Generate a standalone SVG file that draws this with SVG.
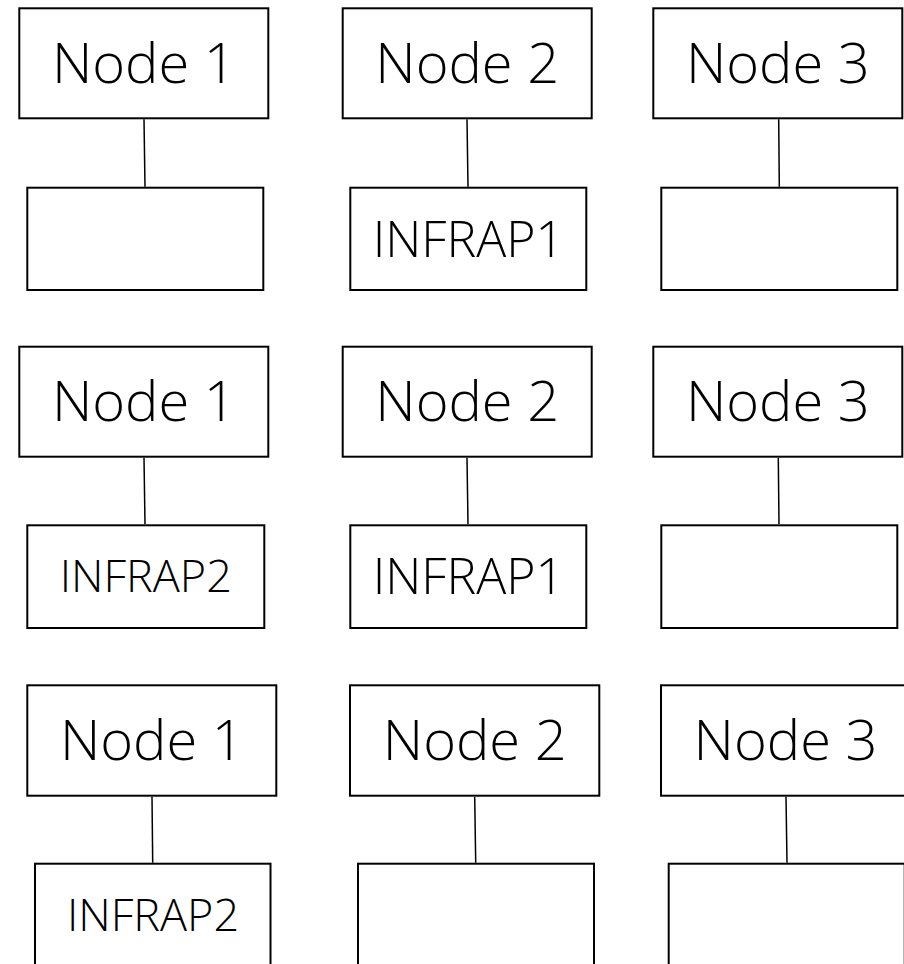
<svg xmlns="http://www.w3.org/2000/svg" width="904" height="964" viewBox="0 0 904 964">
  <style>
    .box { fill: #ffffff; stroke: #000000; stroke-width: 2; }
    .link { stroke: #000000; stroke-width: 1.5; fill: none; }
    .lbl { font-family: "Open Sans", "Noto Sans", "Liberation Sans", sans-serif; font-weight: 300; fill: #000000; text-anchor: middle; }
    .big { font-size: 56px; }
    .mid { font-size: 50px; }
    .sm { font-size: 45px; }
  </style>
  <rect width="904" height="964" fill="#ffffff"/>

  <!-- connectors between each upper node and the box under it -->
  <g id="connectors">
    <line class="link" x1="144" y1="119.3" x2="145" y2="186.7"/>
    <line class="link" x1="467" y1="119.3" x2="468" y2="186.7"/>
    <line class="link" x1="778.7" y1="119.3" x2="779.3" y2="186.7"/>

    <line class="link" x1="144" y1="457.7" x2="145" y2="524.3"/>
    <line class="link" x1="467" y1="457.7" x2="468" y2="524.3"/>
    <line class="link" x1="778.3" y1="457.7" x2="779" y2="524.3"/>

    <line class="link" x1="152" y1="796.7" x2="152.7" y2="862.7"/>
    <line class="link" x1="474.7" y1="796.7" x2="475.7" y2="862.7"/>
    <line class="link" x1="786" y1="796.7" x2="787" y2="862.7"/>
  </g>

  <!-- row 1 -->
  <g id="r1-node1">
    <rect class="box" x="19.3" y="8.3" width="249" height="110"/>
    <text class="lbl big" x="143.8" y="83.3">Node 1</text>
  </g>
  <g id="r1-node1-slot">
    <rect class="box" x="27.3" y="187.7" width="236" height="102.3"/>
  </g>
  <g id="r1-node2">
    <rect class="box" x="342.7" y="8.3" width="249" height="110"/>
    <text class="lbl big" x="467.2" y="83.3">Node 2</text>
  </g>
  <g id="r1-node2-slot">
    <rect class="box" x="350.3" y="187.7" width="236" height="102.3"/>
    <text class="lbl mid" x="468.3" y="256.5">INFRAP1</text>
  </g>
  <g id="r1-node3">
    <rect class="box" x="653.3" y="8.3" width="249" height="110"/>
    <text class="lbl big" x="777.8" y="83.3">Node 3</text>
  </g>
  <g id="r1-node3-slot">
    <rect class="box" x="661.3" y="187.7" width="236" height="102.3"/>
  </g>

  <!-- row 2 -->
  <g id="r2-node1">
    <rect class="box" x="19.3" y="346.7" width="249" height="110"/>
    <text class="lbl big" x="143.8" y="421">Node 1</text>
  </g>
  <g id="r2-node1-slot">
    <rect class="box" x="27.3" y="525.3" width="237" height="102.7"/>
    <text class="lbl sm" x="145.8" y="592">INFRAP2</text>
  </g>
  <g id="r2-node2">
    <rect class="box" x="342.7" y="346.7" width="249" height="110"/>
    <text class="lbl big" x="467.2" y="421">Node 2</text>
  </g>
  <g id="r2-node2-slot">
    <rect class="box" x="350.3" y="525.3" width="236" height="102.7"/>
    <text class="lbl mid" x="468.3" y="593.8">INFRAP1</text>
  </g>
  <g id="r2-node3">
    <rect class="box" x="653.3" y="346.7" width="249" height="110"/>
    <text class="lbl big" x="777.8" y="421">Node 3</text>
  </g>
  <g id="r2-node3-slot">
    <rect class="box" x="661.3" y="525.3" width="236" height="102.7"/>
  </g>

  <!-- row 3 -->
  <g id="r3-node1">
    <rect class="box" x="27.3" y="685.3" width="249" height="110.4"/>
    <text class="lbl big" x="151.8" y="760">Node 1</text>
  </g>
  <g id="r3-node1-slot">
    <rect class="box" x="35" y="863.7" width="235.5" height="102.5"/>
    <text class="lbl sm" x="153" y="931">INFRAP2</text>
  </g>
  <g id="r3-node2">
    <rect class="box" x="350" y="685.3" width="249.3" height="110.4"/>
    <text class="lbl big" x="474.7" y="760">Node 2</text>
  </g>
  <g id="r3-node2-slot">
    <rect class="box" x="358" y="863.7" width="236" height="102.5"/>
  </g>
  <g id="r3-node3">
    <rect class="box" x="661" y="685.3" width="249" height="110.4"/>
    <text class="lbl big" x="785.5" y="760">Node 3</text>
  </g>
  <g id="r3-node3-slot">
    <rect class="box" x="668.7" y="863.7" width="236" height="102.5"/>
  </g>
</svg>
